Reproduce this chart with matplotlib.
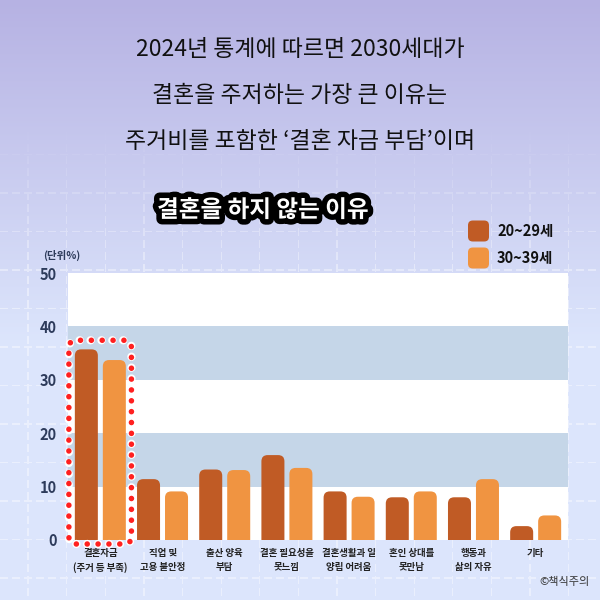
import numpy as np
import matplotlib
matplotlib.use("Agg")
import matplotlib.pyplot as plt
import matplotlib.patheffects as pe
from matplotlib.patches import FancyBboxPatch

plt.rcParams["font.family"] = ["Noto Sans CJK KR", "DejaVu Sans"]

# data
categories = [
    "결혼자금\n(주거 등 부족)", "직업 및\n고용 불안정", "출산 양육\n부담",
    "결혼 필요성을\n못느낌", "결혼생활과 일\n양립 어려움", "혼인 상대를\n못만남",
    "행동과\n삶의 자유", "기타",
]
age_20s = [35.7, 11.4, 13.2, 15.9, 9.1, 8.0, 8.0, 2.6]
age_30s = [33.7, 9.1, 13.1, 13.5, 8.1, 9.1, 11.4, 4.6]
series_names = ["20~29세", "30~39세"]
y_ticks = [0, 10, 20, 30, 40, 50]

dark_orange = "#c05b25"
light_orange = "#f09441"
band_blue = "#c5d6e8"
tick_color = "#2d3b5b"

fig = plt.figure(figsize=(6, 6), dpi=100)

# background gradient with a faded dashed grid
bg = fig.add_axes([0, 0, 1, 1], zorder=-10)
yy, xx = np.mgrid[0:600, 0:600]
top = np.array([0xb6, 0xb2, 0xe3]) / 255
bottom = np.array([0xdc, 0xe5, 0xfc]) / 255
t = np.clip(yy / 340.0, 0, 1)[..., None]
img = top * (1 - t) + bottom * t
grid_v = ((xx - 27) % 38.6 < 1.3) & (yy % 12 < 8)
grid_h = ((yy - 192) % 38.5 < 1.3) & (xx % 12 < 8)
grid = (grid_v | grid_h).astype(float)
fade = np.clip((yy - 130) / 150.0, 0, 1) * 0.42
a = (grid * fade)[..., None]
img = img * (1 - a) + a
bg.imshow(img, extent=[0, 600, 600, 0], interpolation="nearest")
bg.set_xlim(0, 600)
bg.set_ylim(600, 0)
bg.axis("off")

# headline
headline = [
    "2024년 통계에 따르면 2030세대가",
    "결혼을 주저하는 가장 큰 이유는",
    "주거비를 포함한 ‘결혼 자금 부담’이며",
]
for i, line in enumerate(headline):
    fig.text(0.5, 1 - (50 + i * 45.5) / 600, line, ha="center", va="center",
             fontsize=16.5, color="#111111")

fig.text(263 / 600, 1 - 210 / 600, "결혼을 하지 않는 이유", ha="center",
         va="center", fontsize=17, fontweight="black", color="white",
         path_effects=[pe.Stroke(linewidth=8, foreground="black"), pe.Normal()])

# chart
ax = fig.add_axes([68 / 600, 0.1, 500 / 600, 267 / 600])
ax.set_facecolor("white")
ax.set_xlim(-0.52, 7.52)
ax.set_ylim(0, 50)
for lo in (10, 30):
    ax.axhspan(lo, lo + 10, color=band_blue, lw=0, zorder=0)
for s in ax.spines.values():
    s.set_visible(False)

x = np.arange(len(categories))
bar_w = 0.37
offset = 0.225

fig.canvas.draw()
bb = ax.get_window_extent()
aspect = (50 / bb.height) / ((7.52 + 0.52) / bb.width)

for vals, off, col in ((age_20s, -offset, dark_orange), (age_30s, offset, light_orange)):
    for xi, v in zip(x, vals):
        p = FancyBboxPatch((xi + off - bar_w / 2, -3), bar_w, v + 3,
                           boxstyle="round,pad=0,rounding_size=0.1",
                           mutation_aspect=aspect, fc=col, ec="none", zorder=3)
        ax.add_patch(p)

# red dotted highlight around the first group
hl_kw = dict(boxstyle="round,pad=0,rounding_size=0.12", mutation_aspect=aspect,
             fc="none", capstyle="round", zorder=5, clip_on=False)
hl_white = FancyBboxPatch((-0.506, -0.75), 1.006, 38.15, ec="white", lw=6,
                          linestyle=(0, (0.01, 10.8 / 6 * 0.72)), **hl_kw)
hl_red = FancyBboxPatch((-0.506, -0.75), 1.006, 38.15, ec="#ff2020", lw=4,
                        linestyle=(0, (0.01, 10.8 / 4 * 0.72)), **hl_kw)
ax.add_patch(hl_white)
ax.add_patch(hl_red)

ax.set_yticks(y_ticks)
ax.set_yticklabels([str(v) for v in y_ticks], fontsize=10.5,
                   fontweight="bold", color=tick_color)
ax.set_xticks(x)
ax.set_xticklabels(categories, fontsize=6.8, fontweight="bold",
                   color="#222222", linespacing=1.5)
ax.tick_params(axis="y", length=0, pad=8)
ax.tick_params(axis="x", length=0, pad=6)

fig.text(43 / 600, 1 - 255 / 600, "(단위%)", ha="left", va="center",
         fontsize=7.5, fontweight="bold", color=tick_color)

# legend
for i, (name, col) in enumerate(zip(series_names, (dark_orange, light_orange))):
    yc = 1 - (231 + i * 27) / 600
    sq = FancyBboxPatch((468 / 600, yc - 10.5 / 600), 21 / 600, 21 / 600,
                        boxstyle="round,pad=0,rounding_size=0.008",
                        transform=fig.transFigure, fc=col, ec="none")
    fig.patches.append(sq)
    fig.text(497 / 600, yc, name, ha="left", va="center", fontsize=10.5,
             fontweight="bold", color="#111111")

fig.text(590 / 600, 1 - 582 / 600, "©책식주의", ha="right", va="center",
         fontsize=8, color="#333333")

fig.savefig("out.png", dpi=100)
